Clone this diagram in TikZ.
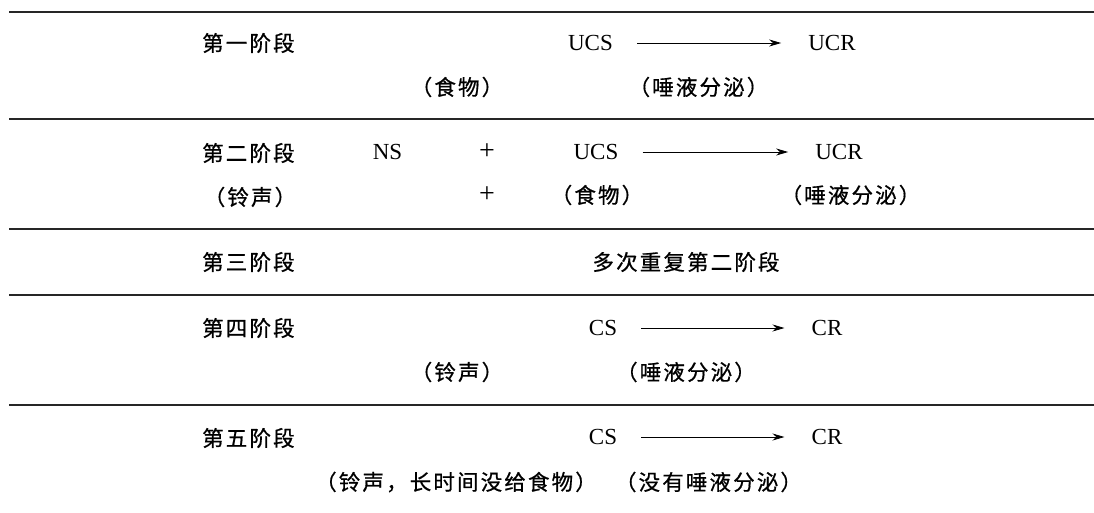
\documentclass[tikz,border=0pt]{standalone}
\usepackage{fontspec}
\setmainfont{Liberation Serif}
\newfontfamily\cjk[LetterSpace=10,FakeBold=0.7]{Noto Sans CJK SC}
\usetikzlibrary{arrows.meta}
\begin{document}
\begin{tikzpicture}[x=1pt,y=-1pt,
  lat/.style={inner sep=0pt, font=\fontsize{23}{23}\selectfont},
  plus/.style={inner sep=0pt, font=\fontsize{28}{28}\selectfont},
  zh/.style={inner sep=0pt, font=\fontsize{21.5}{21.5}\selectfont\cjk},
  stage/.style={zh, anchor=west},
  rulel/.style={line width=1.5pt, black!85},
  conn/.style={line width=0.8pt, -{Stealth[length=12pt,width=7pt]}, shorten <=24pt, shorten >=27pt}]
\useasboundingbox (0,0) rectangle (1094,512);
\fill[white] (0,0) rectangle (1094,512);
% rules
\foreach \yy in {12,119,229,295,405} \draw[rulel] (9,\yy) -- (1094,\yy);
% stage 1
\node[stage] (s1) at (202,43) {第一阶段};
\node[lat] (ucs1) at (590.5,43) {UCS};
\node[lat] (ucr1) at (832,43) {UCR};
\node[zh] (f1) at (457,87) {（食物）};
\node[zh] (sal1) at (698.5,87) {（唾液分泌）};
\draw[conn] (ucs1) -- (ucr1);
% stage 2
\node[stage] (s2) at (202,153) {第二阶段};
\node[lat] (ns2) at (387.5,152) {NS};
\node[plus] (p2a) at (487,152) {+};
\node[lat] (ucs2) at (596,152) {UCS};
\node[lat] (ucr2) at (839,152) {UCR};
\node[zh] (bell2) at (250,197) {（铃声）};
\node[plus] (p2b) at (487,195) {+};
\node[zh] (f2) at (597,195) {（食物）};
\node[zh] (sal2) at (850.5,195) {（唾液分泌）};
\draw[conn] (ucs2) -- (ucr2);
% stage 3
\node[stage] (s3) at (202,262) {第三阶段};
\node[zh] (rep3) at (686,262) {多次重复第二阶段};
% stage 4
\node[stage] (s4) at (202,328) {第四阶段};
\node[lat] (cs4) at (603,328) {CS};
\node[lat] (cr4) at (827,328) {CR};
\node[zh] (bell4) at (457,372) {（铃声）};
\node[zh] (sal4) at (686,372) {（唾液分泌）};
\draw[conn] (cs4) -- (cr4);
% stage 5
\node[stage] (s5) at (202,438) {第五阶段};
\node[lat] (cs5) at (603,437) {CS};
\node[lat] (cr5) at (827,437) {CR};
\node[zh] (bell5) at (456,482) {（铃声，长时间没给食物）};
\node[zh] (nosal5) at (708.5,482) {（没有唾液分泌）};
\draw[conn] (cs5) -- (cr5);
\end{tikzpicture}
\end{document}
